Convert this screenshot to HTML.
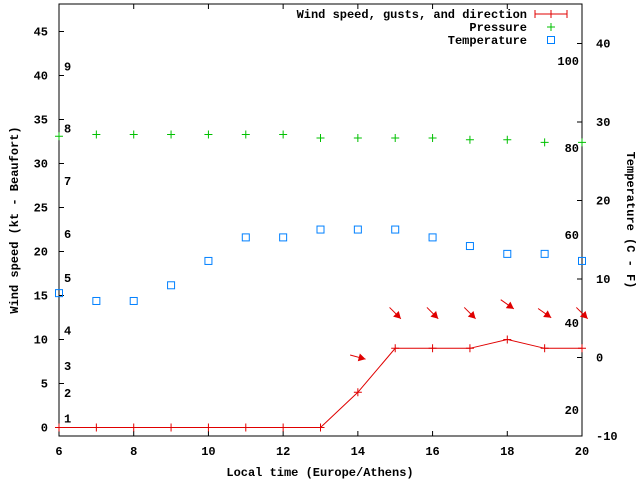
<!DOCTYPE html>
<html><head><meta charset="utf-8"><style>
body{margin:0;background:#fff}
svg{display:block;font-family:"Liberation Mono",monospace;font-weight:bold;font-size:12px}
</style></head><body>
<svg id="chart" width="640" height="480" xmlns="http://www.w3.org/2000/svg"></svg>
<script>
const hours=[6,7,8,9,10,11,12,13,14,15,16,17,18,19,20];
const windSpeed=[0,0,0,0,0,0,0,0,4,9,9,9,10,9,9];
const arrowHours=[14,15,16,17,18,19,20];
const arrowSpeed=[4,9,9,9,10,9,9];
const arrowAngle=[15,45,45,45,35,35,45];
const pressure=[33.1,33.3,33.3,33.3,33.3,33.3,33.3,32.9,32.9,32.9,32.9,32.7,32.7,32.4,32.4];
const temperature=[8.2,7.2,7.2,9.2,12.3,15.3,15.3,16.3,16.3,16.3,15.3,14.2,13.2,13.2,12.3];
const xTicks=[6,8,10,12,14,16,18,20];
const yTicks=[0,5,10,15,20,25,30,35,40,45];
const y2Ticks=[-10,0,10,20,30,40];
const beaufort=[[1,1],[2,3.9],[3,7],[4,11],[5,17],[6,22],[7,28],[8,34],[9,41]];
const fahr=[[20,-6.7],[40,4.4],[60,15.6],[80,26.7],[100,37.8]];

const L=59,R=582,T=4,B=436;
const sx=h=>L+(h-6)*(R-L)/14;
const sy=v=>427.5-v*8.8;
const sy2=c=>357.5-c*7.85;
const svg=document.getElementById('chart');
const NS='http://www.w3.org/2000/svg';
function mk(tag,at,name,parent){const e=document.createElementNS(NS,tag);for(const k in at)e.setAttribute(k,at[k]);


(parent||svg).appendChild(e);return e;}
function txt(x,y,s,anchor,name,extra){const t=mk('text',Object.assign({x:x,y:y,'text-anchor':anchor||'middle'},extra||{}),name);t.textContent=s;return t;}

// frame
mk('rect',{x:L,y:T,width:R-L,height:B-T,fill:'none',stroke:'#000','stroke-width':1},'plot-frame');
xTicks.forEach(h=>{const x=sx(h);
 mk('line',{x1:x,y1:B,x2:x,y2:B-5,stroke:'#000'},'x-tick');
 mk('line',{x1:x,y1:T,x2:x,y2:T+5,stroke:'#000'},'x-tick-top');
 txt(x,455,String(h),'middle','x-tick-label');});
yTicks.forEach(v=>{const y=sy(v);
 mk('line',{x1:L,y1:y,x2:L+5,y2:y,stroke:'#000'},'y-tick');
 txt(48,y+4,String(v),'end','y-tick-label');});
y2Ticks.forEach(v=>{const y=sy2(v);
 mk('line',{x1:R,y1:y,x2:R-5,y2:y,stroke:'#000'},'y2-tick');
 txt(596,y+4,String(v),'start','y2-tick-label');});
beaufort.forEach(b=>txt(64,sy(b[1])+4,String(b[0]),'start','beaufort-label'));
fahr.forEach(f=>txt(579,sy2(f[1])+4,String(f[0]),'end','fahrenheit-label'));
txt(320,476,'Local time (Europe/Athens)','middle','x-axis-title');
txt(0,0,'Wind speed (kt - Beaufort)','middle','y-axis-title',{transform:'translate(18,220) rotate(-90)'});
txt(0,0,'Temperature (C - F)','middle','y2-axis-title',{transform:'translate(627,220) rotate(90)'});

// wind line
let d='';hours.forEach((h,i)=>{d+=(i?'L':'M')+sx(h)+','+sy(windSpeed[i]);});
mk('path',{d:d,fill:'none',stroke:'#e00000','stroke-width':1},'wind-speed-line');
hours.forEach((h,i)=>{const x=sx(h),y=sy(windSpeed[i]);
 mk('path',{d:`M${x-4},${y}H${x+4}M${x},${y-4}V${y+4}`,stroke:'#e00000'},'wind-point');});
// arrows
arrowHours.forEach((h,i)=>{const cx=sx(h),cy=sy(arrowSpeed[i]+4),a=arrowAngle[i]*Math.PI/180,len=16;
 const dx=Math.cos(a),dy=Math.sin(a);
 const x1=cx-dx*len/2,y1=cy-dy*len/2,x2=cx+dx*len/2,y2=cy+dy*len/2;
 mk('line',{x1:x1,y1:y1,x2:x2,y2:y2,stroke:'#e00000'},'wind-direction-arrow');
 const hx=x2-dx*7,hy=y2-dy*7,px=-dy*4,py=dx*4;
 mk('polygon',{points:`${x2},${y2} ${hx+px},${hy+py} ${hx-px},${hy-py}`,fill:'#e00000'},'arrow-head');});
// pressure
hours.forEach((h,i)=>{const x=sx(h),y=sy(pressure[i]);
 mk('path',{d:`M${x-4},${y}H${x+4}M${x},${y-4}V${y+4}`,stroke:'#00c000'},'pressure-point');});
// temperature
hours.forEach((h,i)=>{const x=sx(h),y=sy2(temperature[i]);
 mk('rect',{x:x-3.5,y:y-3.5,width:7,height:7,fill:'none',stroke:'#0080ff'},'temperature-point');});
// legend
txt(527,18,'Wind speed, gusts, and direction','end','legend-wind-label');
mk('path',{d:'M535,14H567M535,10V18M567,10V18M551,10V18',stroke:'#e00000'},'legend-wind-symbol');
txt(527,31,'Pressure','end','legend-pressure-label');
mk('path',{d:'M547,27H555M551,23V31',stroke:'#00c000'},'legend-pressure-symbol');
txt(527,44,'Temperature','end','legend-temperature-label');
mk('rect',{x:547.5,y:36.5,width:7,height:7,fill:'none',stroke:'#0080ff'},'legend-temperature-symbol');
</script>
</body></html>
